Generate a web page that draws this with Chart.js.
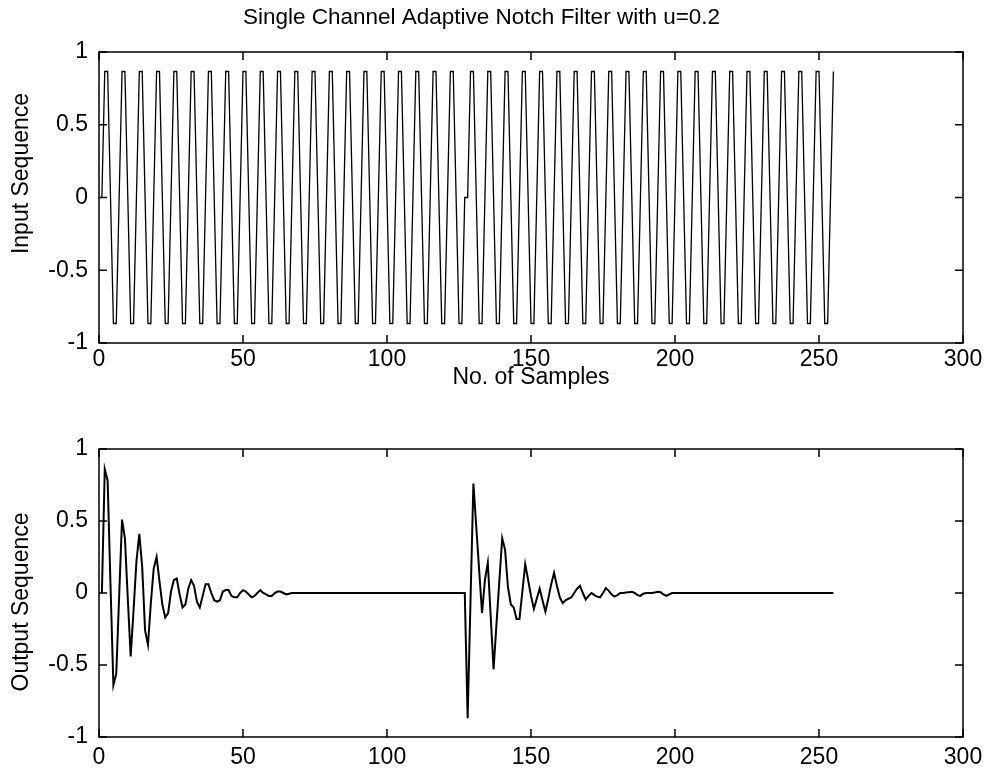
<!DOCTYPE html>
<html>
<head>
<meta charset="utf-8">
<title>Single Channel Adaptive Notch Filter</title>
<script src="https://cdn.jsdelivr.net/npm/chart.js@4.4.0/dist/chart.umd.min.js"></script>
<style>
  html, body { margin: 0; padding: 0; background: #fff; }
  #wrap { position: relative; width: 991px; height: 780px; }
  .box { position: absolute; left: 0; width: 991px; }
  #topBox { top: 0; height: 400px; }
  #botBox { top: 400px; height: 380px; }
</style>
</head>
<body>
<div id="wrap">
  <div class="box" id="topBox"><canvas id="chartInput"></canvas></div>
  <div class="box" id="botBox"><canvas id="chartOutput"></canvas></div>
</div>
<script>
// input sequence, samples 1..255 (phase restarts at sample 128)
const inputSeq = [
  0, 0.866, 0.866, 0, -0.866, -0.866,
  0, 0.866, 0.866, 0, -0.866, -0.866,
  0, 0.866, 0.866, 0, -0.866, -0.866,
  0, 0.866, 0.866, 0, -0.866, -0.866,
  0, 0.866, 0.866, 0, -0.866, -0.866,
  0, 0.866, 0.866, 0, -0.866, -0.866,
  0, 0.866, 0.866, 0, -0.866, -0.866,
  0, 0.866, 0.866, 0, -0.866, -0.866,
  0, 0.866, 0.866, 0, -0.866, -0.866,
  0, 0.866, 0.866, 0, -0.866, -0.866,
  0, 0.866, 0.866, 0, -0.866, -0.866,
  0, 0.866, 0.866, 0, -0.866, -0.866,
  0, 0.866, 0.866, 0, -0.866, -0.866,
  0, 0.866, 0.866, 0, -0.866, -0.866,
  0, 0.866, 0.866, 0, -0.866, -0.866,
  0, 0.866, 0.866, 0, -0.866, -0.866,
  0, 0.866, 0.866, 0, -0.866, -0.866,
  0, 0.866, 0.866, 0, -0.866, -0.866,
  0, 0.866, 0.866, 0, -0.866, -0.866,
  0, 0.866, 0.866, 0, -0.866, -0.866,
  0, 0.866, 0.866, 0, -0.866, -0.866,
  0,
  0, 0.866, 0.866, 0, -0.866, -0.866,
  0, 0.866, 0.866, 0, -0.866, -0.866,
  0, 0.866, 0.866, 0, -0.866, -0.866,
  0, 0.866, 0.866, 0, -0.866, -0.866,
  0, 0.866, 0.866, 0, -0.866, -0.866,
  0, 0.866, 0.866, 0, -0.866, -0.866,
  0, 0.866, 0.866, 0, -0.866, -0.866,
  0, 0.866, 0.866, 0, -0.866, -0.866,
  0, 0.866, 0.866, 0, -0.866, -0.866,
  0, 0.866, 0.866, 0, -0.866, -0.866,
  0, 0.866, 0.866, 0, -0.866, -0.866,
  0, 0.866, 0.866, 0, -0.866, -0.866,
  0, 0.866, 0.866, 0, -0.866, -0.866,
  0, 0.866, 0.866, 0, -0.866, -0.866,
  0, 0.866, 0.866, 0, -0.866, -0.866,
  0, 0.866, 0.866, 0, -0.866, -0.866,
  0, 0.866, 0.866, 0, -0.866, -0.866,
  0, 0.866, 0.866, 0, -0.866, -0.866,
  0, 0.866, 0.866, 0, -0.866, -0.866,
  0, 0.866, 0.866, 0, -0.866, -0.866,
  0, 0.866, 0.866, 0, -0.866, -0.866,
  0, 0.866
];

// output (error) sequence, samples 1..255
const outputSeq = [
  // 1 - 66
  0, 0.86, 0.78, 0.05, -0.64, -0.56,
  -0.02, 0.51, 0.38, -0.04, -0.44, -0.12,
  0.22, 0.41, 0.18, -0.26, -0.36, -0.07,
  0.17, 0.25, 0.08, -0.08, -0.17, -0.14,
  0.01, 0.09, 0.10, -0.01, -0.10, -0.08,
  0.03, 0.09, 0.05, -0.06, -0.10, -0.02,
  0.06, 0.06, 0.0, -0.05, -0.06, -0.05,
  0.01, 0.02, 0.02, -0.02, -0.03, -0.03,
  0.0, 0.02, 0.01, -0.01, -0.03, -0.02,
  0.0, 0.02, 0.0, -0.01, -0.02, -0.02,
  0.0, 0.01, 0.01, 0.0, -0.01, -0.005,
  // 67 - 127
  0, 0, 0, 0, 0, 0, 0, 0, 0, 0,
  0, 0, 0, 0, 0, 0, 0, 0, 0, 0,
  0, 0, 0, 0, 0, 0, 0, 0, 0, 0,
  0, 0, 0, 0, 0, 0, 0, 0, 0, 0,
  0, 0, 0, 0, 0, 0, 0, 0, 0, 0,
  0, 0, 0, 0, 0, 0, 0, 0, 0, 0,
  0,
  // 128 - 198
  -0.87, -0.05, 0.76, 0.46, 0.16, -0.14, 0.09, 0.21, -0.16, -0.53,
  -0.22, 0.08, 0.38, 0.30, 0.04, -0.08, -0.10, -0.18, -0.18, 0.01,
  0.20, 0.09, -0.02, -0.11, -0.04, 0.03, -0.05, -0.13, -0.04, 0.06,
  0.14, 0.05, -0.03, -0.07, -0.05, -0.04, -0.03, 0.0, 0.03, 0.05,
  0.0, -0.045, -0.02, 0.0, -0.015, -0.025, -0.03, 0.0, 0.034, 0.015,
  -0.01, -0.025, -0.015, 0.0, 0.0, 0.003, 0.006, 0.008, 0.0, -0.015,
  -0.02, -0.005, 0.0, 0.0, 0.0, 0.004, 0.008, 0.006, -0.01, -0.02, -0.01,
  // 199 - 255
  0, 0, 0, 0, 0, 0, 0, 0, 0, 0,
  0, 0, 0, 0, 0, 0, 0, 0, 0, 0,
  0, 0, 0, 0, 0, 0, 0, 0, 0, 0,
  0, 0, 0, 0, 0, 0, 0, 0, 0, 0,
  0, 0, 0, 0, 0, 0, 0, 0, 0, 0,
  0, 0, 0, 0, 0, 0, 0
];

const sampleNo = inputSeq.map((v, i) => i + 1);

const xTicks = [0, 50, 100, 150, 200, 250, 300];
const yTicks = [-1, -0.5, 0, 0.5, 1];

const fontFamily = '"Liberation Sans", Arial, Helvetica, sans-serif';
const textFont = { family: fontFamily, size: 23 };

// matlab style frame with inward ticks on all four sides
const matlabBox = {
  id: 'matlabBox',
  afterDraw(chart) {
    const { ctx, chartArea, scales } = chart;
    const a = chartArea;
    const len = 8;
    ctx.save();
    ctx.strokeStyle = '#000';
    ctx.lineWidth = 1.5;
    ctx.strokeRect(a.left, a.top, a.right - a.left, a.bottom - a.top);
    ctx.beginPath();
    scales.x.ticks.forEach(t => {
      const px = scales.x.getPixelForValue(t.value);
      ctx.moveTo(px, a.bottom); ctx.lineTo(px, a.bottom - len);
      ctx.moveTo(px, a.top); ctx.lineTo(px, a.top + len);
    });
    scales.y.ticks.forEach(t => {
      const py = scales.y.getPixelForValue(t.value);
      ctx.moveTo(a.left, py); ctx.lineTo(a.left + len, py);
      ctx.moveTo(a.right, py); ctx.lineTo(a.right - len, py);
    });
    ctx.stroke();
    ctx.restore();
  }
};

// rotated y label, a bit off the axis centre like in the original figure
const yLabel = {
  id: 'yLabel',
  afterDraw(chart, args, opts) {
    const { ctx, chartArea } = chart;
    const cy = (chartArea.top + chartArea.bottom) / 2 + opts.shift;
    ctx.save();
    ctx.translate(22, cy);
    ctx.rotate(-Math.PI / 2);
    ctx.fillStyle = '#000';
    ctx.font = '23px ' + fontFamily;
    ctx.textAlign = 'center';
    ctx.textBaseline = 'middle';
    ctx.fillText(opts.text, 0, 0);
    ctx.restore();
  }
};

function makeOptions(cfg) {
  return {
    responsive: true,
    maintainAspectRatio: false,
    animation: false,
    layout: { padding: { top: cfg.padTop, right: 28, left: 0, bottom: 0 } },
    elements: { point: { radius: 0 }, line: { tension: 0 } },
    plugins: {
      legend: { display: false },
      tooltip: { enabled: false },
      yLabel: { text: cfg.yTitle, shift: cfg.yShift },
      title: {
        display: !!cfg.title,
        text: cfg.title,
        color: '#000',
        font: { family: fontFamily, size: 22.5, weight: 'normal' },
        padding: { top: 4, bottom: 21 }
      }
    },
    scales: {
      x: {
        type: 'linear',
        min: 0,
        max: 300,
        afterBuildTicks: s => { s.ticks = xTicks.map(v => ({ value: v })); },
        ticks: { color: '#000', font: textFont, padding: cfg.xPad, maxRotation: 0 },
        grid: { display: false, drawTicks: false },
        border: { display: false },
        title: {
          display: !!cfg.xTitle,
          text: cfg.xTitle,
          color: '#000',
          font: textFont,
          padding: { top: 0, bottom: 9 }
        },
        afterFit: s => { s.height = cfg.xHeight; }
      },
      y: {
        min: -1,
        max: 1,
        afterBuildTicks: s => { s.ticks = yTicks.map(v => ({ value: v })); },
        ticks: { color: '#000', font: textFont, padding: 11, callback: v => String(v) },
        grid: { display: false, drawTicks: false },
        border: { display: false },
        afterFit: s => { s.width = 99; }
      }
    }
  };
}

new Chart(document.getElementById('chartInput'), {
  type: 'line',
  data: {
    labels: sampleNo,
    datasets: [{
      data: inputSeq,
      borderColor: '#000',
      borderWidth: 1.3,
      fill: false
    }]
  },
  options: makeOptions({
    title: 'Single Channel Adaptive Notch Filter with u=0.2',
    yTitle: 'Input Sequence',
    yShift: -24,
    xTitle: 'No. of Samples',
    padTop: 0,
    xPad: 3,
    xHeight: 57
  }),
  plugins: [matlabBox, yLabel]
});

new Chart(document.getElementById('chartOutput'), {
  type: 'line',
  data: {
    labels: sampleNo,
    datasets: [{
      data: outputSeq,
      borderColor: '#000',
      borderWidth: 2,
      fill: false
    }]
  },
  options: makeOptions({
    title: '',
    yTitle: 'Output Sequence',
    yShift: 9,
    xTitle: '',
    padTop: 49,
    xPad: 7,
    xHeight: 43
  }),
  plugins: [matlabBox, yLabel]
});
</script>
</body>
</html>
